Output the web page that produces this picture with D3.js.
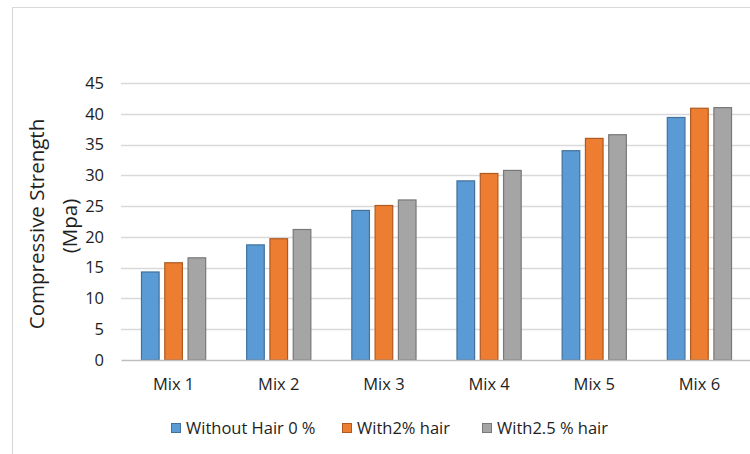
<!DOCTYPE html>
<html>
<head>
<meta charset="utf-8">
<script src="https://cdn.jsdelivr.net/npm/d3@7"></script>
<style>
  html, body { margin: 0; padding: 0; background: #fff; }
  svg { display: block; }
  text { font-family: "Open Sans", "Noto Sans", sans-serif; fill: #1e1e1e; }
</style>
</head>
<body>
<svg id="chart" width="750" height="454"></svg>
<script>
// Compressive strength (MPa) per mix, for three hair contents
const categories = ["Mix 1", "Mix 2", "Mix 3", "Mix 4", "Mix 5", "Mix 6"];
const seriesNames = ["Without Hair 0 %", "With2% hair", "With2.5 % hair"];
const withoutHair = [14.3, 18.7, 24.3, 29.1, 34.0, 39.4];
const with2Hair = [15.8, 19.7, 25.1, 30.3, 36.0, 40.9];
const with25Hair = [16.6, 21.2, 26.0, 30.8, 36.6, 41.0];
const yTicks = [0, 5, 10, 15, 20, 25, 30, 35, 40, 45];

const seriesValues = [withoutHair, with2Hair, with25Hair];
const fills = ["#5b9bd5", "#ed7d31", "#a5a5a5"];
const strokes = ["#41719c", "#ae5a21", "#787878"];
const textColor = "#1e1e1e";

const svg = d3.select("#chart");

// chart frame
svg.append("path")
  .attr("d", "M12.5,460 V7.5 H760")
  .attr("fill", "none")
  .attr("stroke", "#d9d9d9")
  .attr("stroke-width", 1.2);

const plot = { left: 121, right: 752, top: 83, bottom: 360 };

const x0 = d3.scaleBand().domain(categories).range([plot.left, plot.right]);
const groupW = x0.bandwidth() * 0.62;
const x1 = d3.scaleBand().domain(d3.range(seriesNames.length))
  .range([(x0.bandwidth() - groupW) / 2, (x0.bandwidth() + groupW) / 2])
  .paddingInner(0.2);
const y = d3.scaleLinear().domain([0, 45]).range([plot.bottom, plot.top]);

// gridlines
svg.append("g")
  .selectAll("line")
  .data(yTicks.filter(t => t > 0))
  .join("line")
  .attr("x1", plot.left).attr("x2", plot.right)
  .attr("y1", d => Math.round(y(d)) + 0.5).attr("y2", d => Math.round(y(d)) + 0.5)
  .attr("stroke", "#d9d9d9").attr("stroke-width", 1.3);

// y tick labels
const yAxis = d3.axisLeft(y).tickValues(yTicks).tickSize(0).tickPadding(0);
const gy = svg.append("g").attr("transform", `translate(104,0)`).call(yAxis);
gy.select(".domain").remove();
gy.selectAll("text").attr("font-size", 16.5).attr("fill", textColor)
  .attr("font-family", "'Open Sans', 'Noto Sans', sans-serif");

// bars
const groups = svg.append("g").selectAll("g")
  .data(categories)
  .join("g")
  .attr("transform", d => `translate(${x0(d)},0)`);

groups.selectAll("rect")
  .data((d, i) => seriesValues.map((vals, s) => ({ s, v: vals[i] })))
  .join("rect")
  .attr("x", d => x1(d.s) + 0.5)
  .attr("width", x1.bandwidth() - 1)
  .attr("y", d => y(d.v))
  .attr("height", d => y(0) - y(d.v))
  .attr("fill", d => fills[d.s])
  .attr("stroke", d => strokes[d.s])
  .attr("stroke-width", 1.2);

// x axis baseline and labels
const xAxis = d3.axisBottom(x0).tickSize(0).tickPadding(0);
const gx = svg.append("g").attr("transform", `translate(0,${plot.bottom})`).call(xAxis);
gx.select(".domain").attr("stroke", "#bfbfbf").attr("stroke-width", 1.3);
gx.selectAll("text").attr("font-size", 16.5).attr("fill", textColor)
  .attr("dy", "0").attr("y", 30)
  .attr("font-family", "'Open Sans', 'Noto Sans', sans-serif");

// y axis title
svg.append("text")
  .attr("transform", "translate(44,224) rotate(-90)")
  .attr("text-anchor", "middle")
  .attr("font-size", 20.5)
  .text("Compressive Strength");
svg.append("text")
  .attr("transform", "translate(77,226) rotate(-90)")
  .attr("text-anchor", "middle")
  .attr("font-size", 20.5)
  .text("(Mpa)");

// legend
const legendX = [171, 342, 482];
const legend = svg.append("g").selectAll("g")
  .data(seriesNames)
  .join("g")
  .attr("transform", (d, i) => `translate(${legendX[i]},428)`);
legend.append("rect")
  .attr("x", 0.5).attr("y", -4.5).attr("width", 9).attr("height", 9)
  .attr("fill", (d, i) => fills[i]).attr("stroke", (d, i) => strokes[i]);
legend.append("text")
  .attr("x", 15).attr("y", 0).attr("dy", "0.35em")
  .attr("font-size", 16.5)
  .text(d => d);
</script>
</body>
</html>
